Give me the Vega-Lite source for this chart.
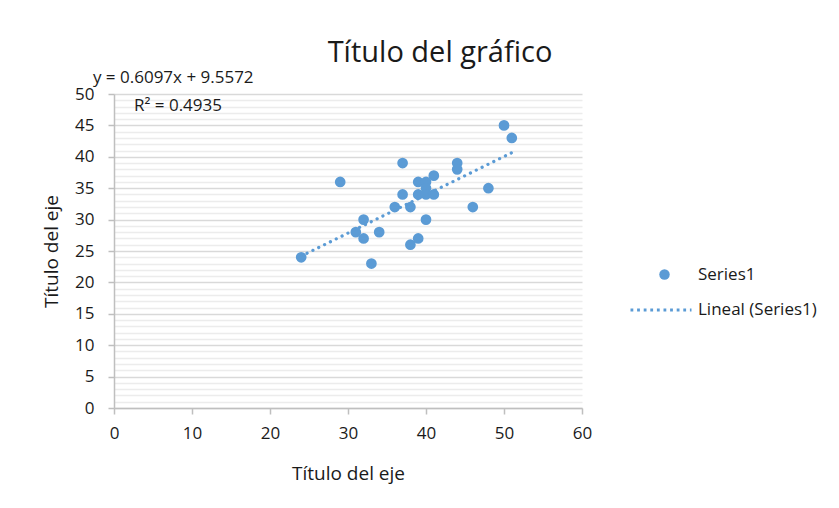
{
  "$schema": "https://vega.github.io/schema/vega-lite/v6.json",
  "width": 468,
  "height": 314,
  "autosize": {"type": "none"},
  "padding": {"left": 114, "top": 94, "right": 257, "bottom": 100},
  "background": "white",
  "config": {
    "font": "Open Sans",
    "view": {"stroke": null},
    "axis": {"labelFont": "Open Sans", "titleFont": "Open Sans"},
    "legend": {"labelFont": "Open Sans"}
  },
  "title": {
    "text": "Título del gráfico",
    "font": "Open Sans",
    "fontSize": 29,
    "fontWeight": "normal",
    "color": "#1a1a1a",
    "anchor": "middle",
    "frame": "group",
    "baseline": "alphabetic",
    "dx": 92,
    "offset": -22
  },
  "data": {
    "values": [
      {"x": 24, "y": 24}, {"x": 29, "y": 36}, {"x": 31, "y": 28}, {"x": 32, "y": 30},
      {"x": 32, "y": 27}, {"x": 33, "y": 23}, {"x": 34, "y": 28}, {"x": 36, "y": 32},
      {"x": 37, "y": 39}, {"x": 37, "y": 34}, {"x": 38, "y": 32}, {"x": 38, "y": 26},
      {"x": 39, "y": 27}, {"x": 39, "y": 36}, {"x": 39, "y": 34}, {"x": 40, "y": 36},
      {"x": 40, "y": 35}, {"x": 40, "y": 34}, {"x": 40, "y": 30}, {"x": 41, "y": 37},
      {"x": 41, "y": 34}, {"x": 44, "y": 39}, {"x": 44, "y": 38}, {"x": 46, "y": 32},
      {"x": 48, "y": 35}, {"x": 50, "y": 45}, {"x": 51, "y": 43}
    ]
  },
  "layer": [
    {
      "mark": {"type": "point", "filled": true, "size": 115, "opacity": 1, "color": "#5b9bd5", "shape": "circle"},
      "encoding": {
        "x": {
          "field": "x", "type": "quantitative",
          "scale": {"domain": [0, 60], "nice": false, "zero": true},
          "axis": {
            "values": [0, 10, 20, 30, 40, 50, 60],
            "title": "Título del eje",
            "titleFontSize": 19, "titleFontWeight": "normal", "titleColor": "#1a1a1a",
            "titlePadding": 23,
            "labelFontSize": 17, "labelColor": "#1a1a1a", "labelPadding": 11,
            "labelFlush": false, "labelOverlap": false,
            "grid": false,
            "domainColor": "#bfbfbf", "domainWidth": 1.5,
            "tickColor": "#bfbfbf", "tickSize": 6, "tickWidth": 1.5
          }
        },
        "y": {
          "field": "y", "type": "quantitative",
          "scale": {"domain": [0, 50], "nice": false, "zero": true},
          "axis": {
            "values": [0,1,2,3,4,5,6,7,8,9,10,11,12,13,14,15,16,17,18,19,20,21,22,23,24,25,26,27,28,29,30,31,32,33,34,35,36,37,38,39,40,41,42,43,44,45,46,47,48,49,50],
            "tickCount": 60,
            "labelExpr": "datum.value % 5 === 0 ? datum.label : ''",
            "labelFlush": false, "labelOverlap": false,
            "title": "Título del eje",
            "titleFontSize": 19, "titleFontWeight": "normal", "titleColor": "#1a1a1a",
            "titlePadding": 13,
            "labelFontSize": 17, "labelColor": "#1a1a1a", "labelPadding": 14,
            "grid": true,
            "gridColor": {"condition": {"test": "datum.value % 5 === 0", "value": "#d9d9d9"}, "value": "#ececec"},
            "gridWidth": 1.3,
            "domainColor": "#bfbfbf", "domainWidth": 1.5,
            "tickColor": {"condition": {"test": "datum.value % 5 === 0", "value": "#bfbfbf"}, "value": "transparent"},
            "tickSize": 6, "tickWidth": 1.5
          }
        },
        "shape": {
          "datum": "Series1",
          "scale": {"range": ["circle"]},
          "legend": {
            "title": null, "orient": "none", "legendX": 542, "legendY": 172,
            "symbolFillColor": "#5b9bd5", "symbolStrokeWidth": 0, "symbolSize": 110,
            "labelFontSize": 17, "labelColor": "#1a1a1a", "labelOffset": 25
          }
        }
      }
    },
    {
      "mark": {"type": "line", "strokeWidth": 3.2, "strokeCap": "round", "strokeDash": [0.1, 6.4]},
      "transform": [{"regression": "y", "on": "x"}],
      "encoding": {
        "x": {"field": "x", "type": "quantitative"},
        "y": {"field": "y", "type": "quantitative"},
        "color": {
          "datum": "Lineal (Series1)",
          "scale": {"range": ["#5b9bd5"]},
          "legend": {
            "title": null, "orient": "none", "legendX": 515, "legendY": 184,
            "symbolType": "stroke", "symbolStrokeColor": "#5b9bd5", "symbolStrokeWidth": 2.8,
            "symbolSize": 3721, "symbolDash": [2.8, 3.8],
            "labelFontSize": 17, "labelColor": "#1a1a1a", "labelOffset": 5
          }
        }
      }
    },
    {
      "data": {"values": [{}]},
      "mark": {"type": "text", "align": "left", "baseline": "alphabetic", "fontSize": 17, "color": "#1a1a1a", "clip": false},
      "encoding": {
        "x": {"datum": -2.7, "type": "quantitative"},
        "y": {"datum": 51.8, "type": "quantitative"},
        "text": {"value": "y = 0.6097x + 9.5572"}
      }
    },
    {
      "data": {"values": [{}]},
      "mark": {"type": "text", "align": "left", "baseline": "alphabetic", "fontSize": 17, "color": "#1a1a1a", "clip": false},
      "encoding": {
        "x": {"datum": 2.56, "type": "quantitative"},
        "y": {"datum": 47.3, "type": "quantitative"},
        "text": {"value": "R² = 0.4935"}
      }
    }
  ]
}
